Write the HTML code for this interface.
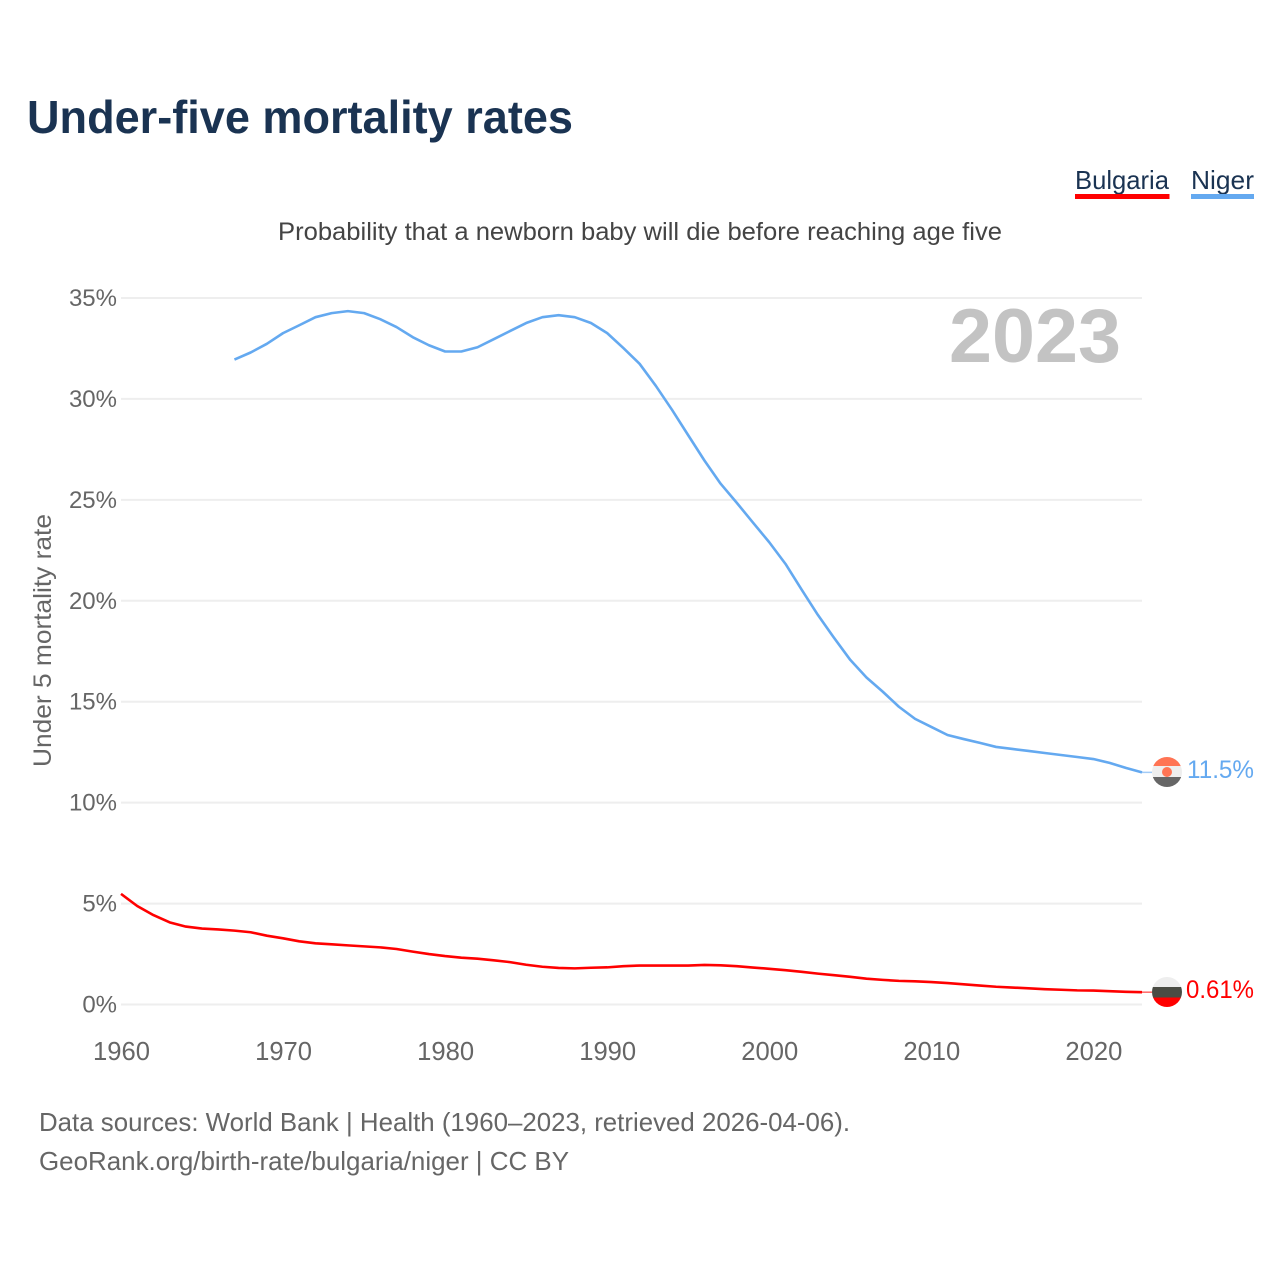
<!DOCTYPE html>
<html lang="en">
<head>
<meta charset="utf-8">
<title>Under-five mortality rates</title>
<style>
html,body{margin:0;padding:0;background:#fff;width:1280px;height:1280px;overflow:hidden}
svg{display:block}
text{font-family:"Liberation Sans",sans-serif}
</style>
</head>
<body>
<svg id="chart" xmlns="http://www.w3.org/2000/svg" width="1280" height="1280" viewBox="0 0 1280 1280">
  <text x="27" y="133" font-size="46" font-weight="700" fill="#1a3352" textLength="546" lengthAdjust="spacingAndGlyphs">Under-five mortality rates</text>
  <text x="1075" y="189" font-size="26" fill="#1a3352" textLength="94" lengthAdjust="spacingAndGlyphs">Bulgaria</text>
  <rect x="1075" y="194" width="94.5" height="5" fill="#ff0000"/>
  <text x="1191" y="189" font-size="26" fill="#1a3352" textLength="63" lengthAdjust="spacingAndGlyphs">Niger</text>
  <rect x="1191" y="194" width="63" height="5" fill="#64a9f0"/>
  <text x="278" y="240" font-size="25" fill="#444444" textLength="724" lengthAdjust="spacingAndGlyphs">Probability that a newborn baby will die before reaching age five</text>
  <text transform="translate(51,767) rotate(-90)" font-size="25" fill="#666666" textLength="253" lengthAdjust="spacingAndGlyphs">Under 5 mortality rate</text>
  <g id="grid"></g>
  <g id="yticks"></g>
  <g id="xticks"></g>
  <text x="949" y="362" font-size="76" font-weight="700" fill="#c3c3c3" textLength="172" lengthAdjust="spacingAndGlyphs">2023</text>
  <g id="series"></g>
  <defs>
    <clipPath id="clip-niger"><circle cx="1167" cy="772" r="15"/></clipPath>
    <clipPath id="clip-bulgaria"><circle cx="1167" cy="992" r="15"/></clipPath>
  </defs>
  <g clip-path="url(#clip-niger)">
    <rect x="1150" y="755" width="34" height="11" fill="#ff7454"/>
    <rect x="1150" y="766" width="34" height="11" fill="#eeeeee"/>
    <rect x="1150" y="777" width="34" height="12" fill="#666666"/>
    <circle cx="1167" cy="772" r="5" fill="#ff7454"/>
  </g>
  <g clip-path="url(#clip-bulgaria)">
    <rect x="1150" y="975" width="34" height="12" fill="#eeeeee"/>
    <rect x="1150" y="987" width="34" height="10.5" fill="#4a4c44"/>
    <rect x="1150" y="997.5" width="34" height="12" fill="#ff0000"/>
  </g>
  <text x="1187" y="778" font-size="25" fill="#64a9f0" textLength="67" lengthAdjust="spacingAndGlyphs">11.5%</text>
  <text x="1186" y="998" font-size="25" fill="#ff0000" textLength="68" lengthAdjust="spacingAndGlyphs">0.61%</text>
  <text x="39" y="1131" font-size="26" fill="#666666" textLength="811" lengthAdjust="spacingAndGlyphs">Data sources: World Bank | Health (1960–2023, retrieved 2026-04-06).</text>
  <text x="39" y="1170" font-size="26" fill="#666666" textLength="530" lengthAdjust="spacingAndGlyphs">GeoRank.org/birth-rate/bulgaria/niger | CC BY</text>
</svg>
<script>
const yTickValues = [0, 5, 10, 15, 20, 25, 30, 35];
const xTickYears = [1960, 1970, 1980, 1990, 2000, 2010, 2020];
const bulgariaStartYear = 1960;
const bulgariaValues = [5.48,4.88,4.43,4.07,3.86,3.76,3.72,3.66,3.58,3.41,3.28,3.13,3.03,2.98,2.93,2.88,2.83,2.75,2.62,2.5,2.4,2.32,2.27,2.19,2.1,1.97,1.87,1.81,1.79,1.82,1.84,1.9,1.93,1.93,1.93,1.93,1.96,1.94,1.9,1.83,1.77,1.7,1.62,1.53,1.45,1.37,1.28,1.22,1.17,1.15,1.11,1.06,1.0,0.94,0.88,0.84,0.8,0.76,0.73,0.7,0.69,0.66,0.63,0.61];
const nigerStartYear = 1967;
const nigerValues = [31.95,32.3,32.73,33.26,33.65,34.05,34.25,34.35,34.25,33.95,33.56,33.06,32.66,32.35,32.35,32.56,32.96,33.36,33.76,34.05,34.15,34.05,33.76,33.26,32.52,31.74,30.65,29.46,28.2,26.95,25.8,24.85,23.87,22.9,21.83,20.55,19.3,18.16,17.07,16.2,15.5,14.75,14.15,13.75,13.35,13.15,12.96,12.76,12.66,12.56,12.46,12.36,12.26,12.16,11.97,11.72,11.5];

const SVG_NS = 'http://www.w3.org/2000/svg';
function xScale(year) { return 121 + (year - 1960) * (1142 - 121) / 63; }
function yScale(value) { return 1004.5 - value * (1004.5 - 298) / 35; }

const gridGroup = document.getElementById('grid');
const yTickGroup = document.getElementById('yticks');
const xTickGroup = document.getElementById('xticks');
const seriesGroup = document.getElementById('series');

yTickValues.forEach(function (v) {
  const line = document.createElementNS(SVG_NS, 'line');
  
  
  line.setAttribute('x1', xScale(1960));
  line.setAttribute('x2', xScale(2023));
  line.setAttribute('y1', yScale(v));
  line.setAttribute('y2', yScale(v));
  line.setAttribute('stroke', '#eeeeee');
  line.setAttribute('stroke-width', '2');
  gridGroup.appendChild(line);

  const label = document.createElementNS(SVG_NS, 'text');
  
  
  label.setAttribute('x', 117);
  label.setAttribute('y', yScale(v) + 8);
  label.setAttribute('text-anchor', 'end');
  label.setAttribute('font-size', '24');
  label.setAttribute('fill', '#666666');
  label.textContent = v + '%';
  yTickGroup.appendChild(label);
});

xTickYears.forEach(function (year) {
  const label = document.createElementNS(SVG_NS, 'text');
  
  
  label.setAttribute('x', xScale(year) + 0.5);
  label.setAttribute('y', 1060);
  label.setAttribute('text-anchor', 'middle');
  label.setAttribute('font-size', '25.6');
  label.setAttribute('fill', '#666666');
  label.textContent = year;
  xTickGroup.appendChild(label);
});

function drawSeries(values, startYear, color, lineName, connectorName) {
  const points = values.map(function (v, i) {
    return xScale(startYear + i).toFixed(2) + ',' + yScale(v).toFixed(2);
  }).join(' ');
  const lastY = yScale(values[values.length - 1]);

  const connector = document.createElementNS(SVG_NS, 'line');
  
  
  connector.setAttribute('x1', xScale(startYear + values.length - 1));
  connector.setAttribute('x2', 1152);
  connector.setAttribute('y1', lastY);
  connector.setAttribute('y2', lastY);
  connector.setAttribute('stroke', color);
  connector.setAttribute('stroke-opacity', '0.6');
  connector.setAttribute('stroke-width', '1.5');
  seriesGroup.appendChild(connector);

  const line = document.createElementNS(SVG_NS, 'polyline');
  
  
  line.setAttribute('points', points);
  line.setAttribute('fill', 'none');
  line.setAttribute('stroke', color);
  line.setAttribute('stroke-width', '2.6');
  line.setAttribute('stroke-linejoin', 'round');
  seriesGroup.appendChild(line);
}

drawSeries(bulgariaValues, bulgariaStartYear, '#ff0000', 'line-bulgaria', 'connector-bulgaria');
drawSeries(nigerValues, nigerStartYear, '#64a9f0', 'line-niger', 'connector-niger');
</script>
</body>
</html>
